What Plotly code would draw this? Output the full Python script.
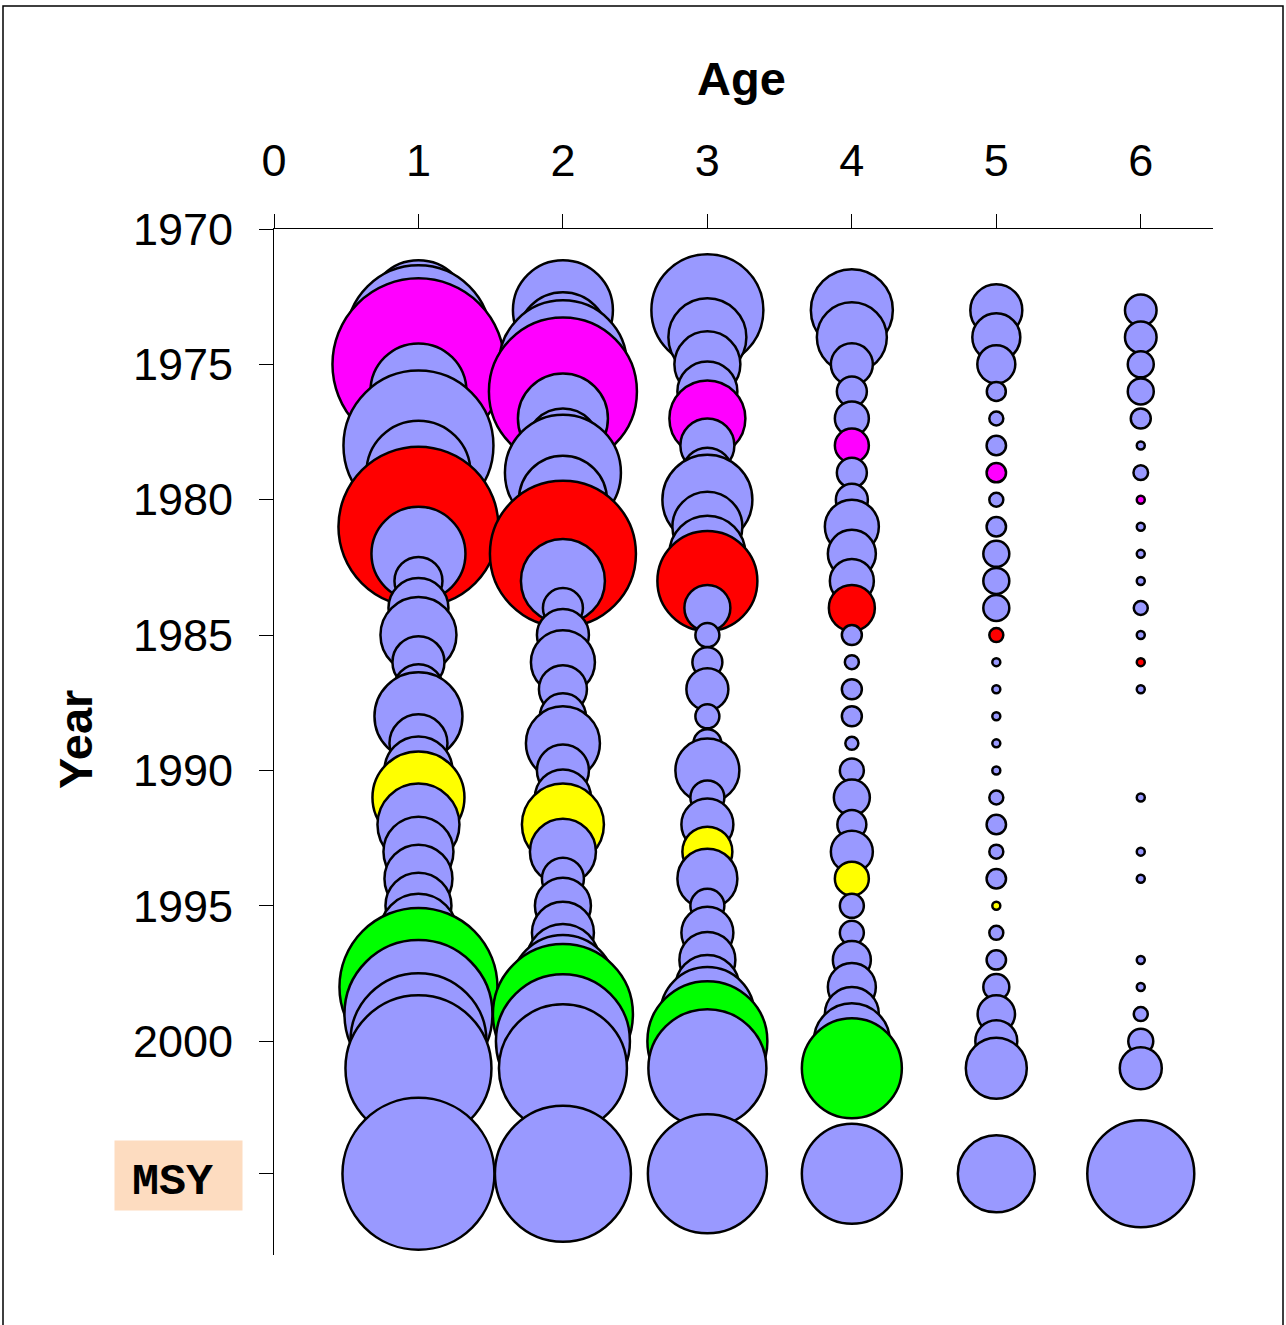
import plotly.graph_objects as go

# ---- data (bubble values = relative abundance index) ----
years = list(range(1973, 2002))
ages = [1, 2, 3, 4, 5, 6]

age1 = [50, 72, 86, 48, 45, 75, 52, 50, 80, 47, 24, 30, 38, 26, 25, 44, 29, 34, 46, 41,
        35, 34, 33, 39, 38, 79, 74, 68, 73]
age2 = [50, 45, 64, 74, 45, 37, 58, 44, 45, 73, 42, 20, 26, 32, 24, 23, 37, 26, 28, 41,
        33, 21, 28, 31, 36, 52, 70, 67, 64]
age3 = [56, 39, 33, 30, 38, 27, 25, 45, 35, 38, 50, 23, 12, 15, 21, 12, 14, 32, 17, 26,
        25, 30, 17, 26, 28, 32, 47, 60, 59]
age4 = [41, 35, 21, 15, 17, 17, 15, 16, 27, 24, 22, 23, 10, 7, 10, 10, 6.5, 12, 18, 14.5,
        21, 17, 12, 12, 19, 24, 27, 38, 50]
age5 = [26, 24, 19, 9.5, 7, 9.7, 9.7, 7, 9.7, 13, 13, 13, 7, 4, 4, 4, 4, 4, 7, 9.7,
        7, 9.7, 4, 7, 9.7, 13, 18.7, 21, 30.5]
age6 = [15.8, 15.8, 13, 13, 10, 4, 7.3, 4, 4, 4, 4, 7, 4, 4, 4, None, None, None, 4, None,
        4, 4, None, None, 4, 4, 7, 12.5, 21]
msy_values = [76, 68, 59.5, 50, 38.5, 53.5]
msy_row = 2004.9

# cohorts (year class) that are highlighted
cohort_colors = {1974: "#FF00FF", 1980: "#FF0000", 1990: "#FFFF00", 1997: "#00FF00"}
base_color = "#9999FF"

year_ticks = [1970, 1975, 1980, 1985, 1990, 1995, 2000]
age_ticks = [0, 1, 2, 3, 4, 5, 6]

# ---- build points (drawn in year order so later years overlay earlier ones) ----
series = [age1, age2, age3, age4, age5, age6]
xs, ys, ss, cs = [], [], [], []
for i, yr in enumerate(years):
    for a, vals in zip(ages, series):
        v = vals[i]
        if v is None:
            continue
        xs.append(a)
        ys.append(yr)
        ss.append(v)
        cs.append(cohort_colors.get(yr - a, base_color))
for a, v in zip(ages, msy_values):
    xs.append(a)
    ys.append(msy_row)
    ss.append(v)
    cs.append(base_color)

fig = go.Figure(go.Scatter(
    x=xs, y=ys, mode="markers",
    marker=dict(size=ss, sizemode="diameter", sizeref=0.5, color=cs,
                opacity=1, line=dict(color="black", width=2.5)),
    cliponaxis=False, hoverinfo="skip", showlegend=False,
))

W, H = 1286, 1325
L, R, T, B = 274, 73, 229, 70
pw, ph = W - L - R, H - T - B

def px2paper(px, py):
    return (px - L) / pw, (H - B - py) / ph

font_family = "Arial, Liberation Sans, sans-serif"

fig.update_layout(
    width=W, height=H,
    margin=dict(l=L, r=R, t=T, b=B, pad=0),
    paper_bgcolor="white", plot_bgcolor="white",
    font=dict(family=font_family, color="black", size=45),
    xaxis=dict(range=[0, 6.5], side="top", tickvals=age_ticks,
               ticktext=[str(t) for t in age_ticks],
               showgrid=False, zeroline=False, showline=True, linecolor="black",
               linewidth=1, ticks="outside", ticklen=14, tickcolor="black",
               tickwidth=1, tickfont=dict(size=45, family=font_family),
               ticklabelstandoff=20),
    yaxis=dict(range=[2007.9, 1970], tickvals=year_ticks + [msy_row],
               ticktext=[str(t) for t in year_ticks] + [""],
               showgrid=False, zeroline=False, showline=True, linecolor="black",
               linewidth=1, ticks="outside", ticklen=14, tickcolor="black",
               tickwidth=1, tickfont=dict(size=45, family=font_family),
               ticklabelstandoff=17),
)

# axis titles
ax, ay = px2paper(741, 78)
fig.add_annotation(text="<b>Age</b>", x=ax, y=ay, xref="paper", yref="paper",
                   showarrow=False, font=dict(size=47, family=font_family),
                   xanchor="center", yanchor="middle")
yx, yy = px2paper(75, 740)
fig.add_annotation(text="<b>Year</b>", x=yx, y=yy, xref="paper", yref="paper",
                   showarrow=False, textangle=-90,
                   font=dict(size=47, family=font_family),
                   xanchor="center", yanchor="middle")

# MSY label box
mx, my = px2paper(178.5, 1175.5)
fig.add_annotation(text=" ", x=mx, y=my, xref="paper", yref="paper",
                   showarrow=False, width=127, height=69, bgcolor="#FDDCC0",
                   borderpad=0, xanchor="center", yanchor="middle",
                   font=dict(size=20))
tx, ty = px2paper(172, 1182)
fig.add_annotation(text="<b>MSY</b>", x=tx, y=ty, xref="paper", yref="paper",
                   showarrow=False, borderpad=0,
                   font=dict(size=45, family="Courier New, Liberation Mono, monospace"),
                   xanchor="center", yanchor="middle")

# outer frame
fx0, fy0 = px2paper(3, 1360)
fx1, fy1 = px2paper(1283, 6)
fig.add_shape(type="rect", xref="paper", yref="paper", x0=fx0, x1=fx1, y0=fy0, y1=fy1,
              line=dict(color="black", width=1.5), fillcolor="rgba(0,0,0,0)", layer="below")

fig.write_html("out.html", config={"displayModeBar": False},
               post_script="document.body.style.margin='0px';")
